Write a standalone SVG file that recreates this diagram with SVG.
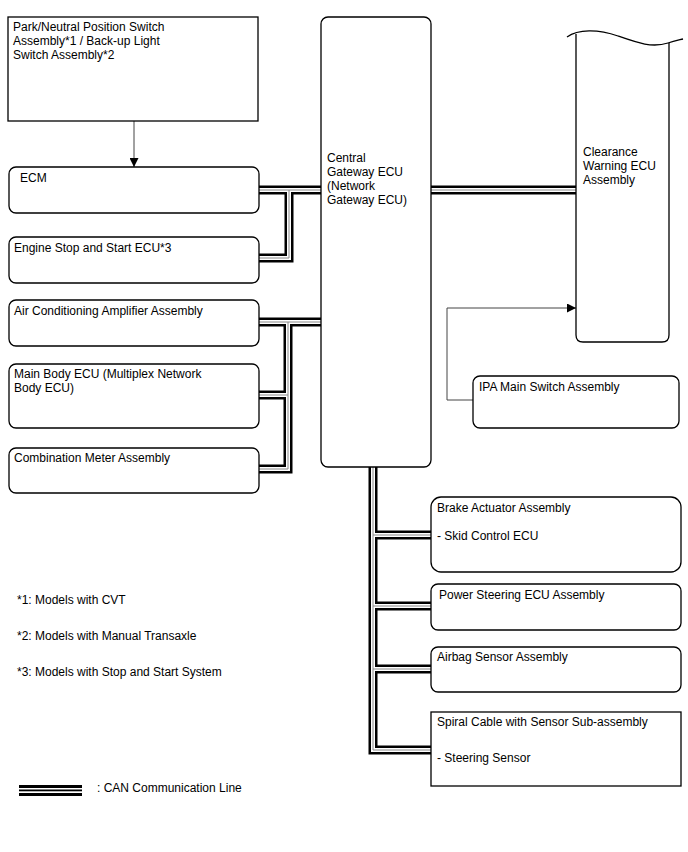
<svg xmlns="http://www.w3.org/2000/svg" width="688" height="852" viewBox="0 0 688 852">
<style>
text{font-family:"Liberation Sans",Arial,sans-serif;font-size:12px;fill:#000}
.box{fill:#fff;stroke:#000;stroke-width:1.3}
.canb{fill:none;stroke:#000;stroke-width:9}
.canw{fill:none;stroke:#fff;stroke-width:4}
.cang{fill:none;stroke:#888;stroke-width:1}
.arr{fill:none;stroke:#444;stroke-width:1}
</style>
<defs>
<marker id="ah" viewBox="0 0 10 10" refX="10" refY="5" markerWidth="9" markerHeight="9" markerUnits="userSpaceOnUse" orient="auto">
<path d="M0,0 L10,5 L0,10 z" fill="#000"/>
</marker>
</defs>
<rect width="688" height="852" fill="#fff"/>
<g id="connectors">
<g class="canb">
<path d="M259,190 H321"/><path d="M259,258 H289 V190"/>
<path d="M431,190 H577"/>
<path d="M259,322 H321"/><path d="M259,469 H288 V322"/><path d="M259,395 H288"/>
<path d="M373,467 V750 H431"/><path d="M373,535 H431"/><path d="M373,606 H431"/><path d="M373,669 H431"/>
</g>
<g class="canw">
<path d="M259,190 H321"/><path d="M259,258 H289 V190"/>
<path d="M431,190 H577"/>
<path d="M259,322 H321"/><path d="M259,469 H288 V322"/><path d="M259,395 H288"/>
<path d="M373,467 V750 H431"/><path d="M373,535 H431"/><path d="M373,606 H431"/><path d="M373,669 H431"/>
</g>
<g class="cang">
<path d="M259,190 H321"/><path d="M259,258 H289 V190"/>
<path d="M431,190 H577"/>
<path d="M259,322 H321"/><path d="M259,469 H288 V322"/><path d="M259,395 H288"/>
<path d="M373,467 V750 H431"/><path d="M373,535 H431"/><path d="M373,606 H431"/><path d="M373,669 H431"/>
</g>
<g id="legend-line" fill="#000">
<rect x="19" y="785" width="63" height="3"/>
<rect x="19" y="789.5" width="63" height="1.8"/>
<rect x="19" y="793" width="63" height="3"/>
</g>
<path class="arr" d="M134,121 V167" marker-end="url(#ah)"/>
<path class="arr" d="M473,400 H447 V308 H576" marker-end="url(#ah)"/>
</g>
<g id="park">
<rect class="box" x="8" y="17" width="250" height="104"/>
<text x="13" y="31">Park/Neutral Position Switch</text>
<text x="13" y="45">Assembly*1 / Back-up Light</text>
<text x="13" y="59">Switch Assembly*2</text>
</g>
<g id="ecm">
<rect class="box" x="9" y="167" width="250" height="46" rx="7"/>
<text x="20" y="182">ECM</text>
</g>
<g id="engine">
<rect class="box" x="9" y="237" width="250" height="46" rx="7"/>
<text x="14" y="252">Engine Stop and Start ECU*3</text>
</g>
<g id="aircon">
<rect class="box" x="9" y="300" width="250" height="46" rx="7"/>
<text x="14" y="315">Air Conditioning Amplifier Assembly</text>
</g>
<g id="mainbody">
<rect class="box" x="9" y="364" width="250" height="64" rx="7"/>
<text x="14" y="378">Main Body ECU (Multiplex Network</text>
<text x="14" y="392">Body ECU)</text>
</g>
<g id="combo">
<rect class="box" x="9" y="448" width="250" height="45" rx="7"/>
<text x="14" y="462">Combination Meter Assembly</text>
</g>
<g id="gateway">
<rect class="box" x="321" y="17" width="110" height="450" rx="7"/>
<text x="327" y="162">Central</text>
<text x="327" y="176">Gateway ECU</text>
<text x="327" y="190">(Network</text>
<text x="327" y="204">Gateway ECU)</text>
</g>
<g id="clearance">
<path class="box" d="M576,34 V335 Q576,342 583,342 H662 Q669,342 669,335 V43"/>
<path fill="none" stroke="#000" stroke-width="1.3" d="M567,37 C578,29 598,29 618,36 C638,43 652,48 668,43 C674,41 679,40 683,39"/>
<text x="583" y="156">Clearance</text>
<text x="583" y="170">Warning ECU</text>
<text x="583" y="184">Assembly</text>
</g>
<g id="ipa">
<rect class="box" x="473" y="376" width="206" height="52" rx="7"/>
<text x="479" y="391">IPA Main Switch Assembly</text>
</g>
<g id="brake">
<rect class="box" x="431" y="497" width="250" height="75" rx="10"/>
<text x="437" y="512">Brake Actuator Assembly</text>
<text x="437" y="540">- Skid Control ECU</text>
</g>
<g id="power">
<rect class="box" x="431" y="584" width="250" height="46" rx="7"/>
<text x="439" y="599">Power Steering ECU Assembly</text>
</g>
<g id="airbag">
<rect class="box" x="431" y="647" width="250" height="45" rx="7"/>
<text x="437" y="661">Airbag Sensor Assembly</text>
</g>
<g id="spiral">
<rect class="box" x="431" y="712" width="250" height="74"/>
<text x="437" y="726">Spiral Cable with Sensor Sub-assembly</text>
<text x="437" y="762">- Steering Sensor</text>
</g>
<g id="notes">
<text x="17" y="604">*1: Models with CVT</text>
<text x="17" y="640">*2: Models with Manual Transaxle</text>
<text x="17" y="676">*3: Models with Stop and Start System</text>
<text x="97" y="792">: CAN Communication Line</text>
</g>
</svg>
